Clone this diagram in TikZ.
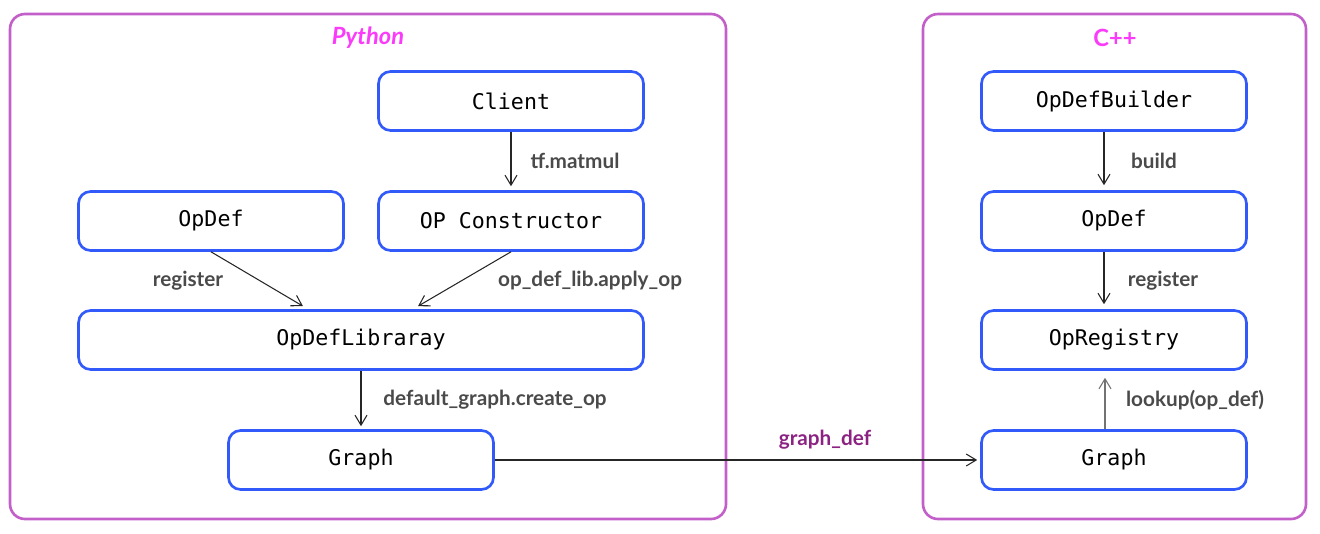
\documentclass[tikz,border=0pt]{standalone}
\usepackage{fontspec}
\setmonofont{DejaVu Sans Mono}
\newfontfamily\labelfont{Lato}
\usepackage{tikz}
\usetikzlibrary{positioning}
\usetikzlibrary{calc,arrows.meta}
\definecolor{boxblue}{RGB}{50,90,250}
\definecolor{framepurple}{RGB}{195,95,200}
\definecolor{titlemagenta}{RGB}{250,60,250}
\definecolor{lblgray}{RGB}{74,74,74}
\definecolor{defpurple}{RGB}{140,35,130}

\begin{document}
\begin{tikzpicture}[x=0.02cm, y=-0.02cm,
    box/.style={rectangle, draw=boxblue, line width=1.5pt, rounded corners=0.24cm,
        minimum width=5.3cm, minimum height=1.18cm,
        font=\ttfamily\fontsize{12.3}{14}\selectfont},
    lbl/.style={text=lblgray, font=\labelfont\bfseries\fontsize{11.8}{13}\selectfont},
    frame/.style={draw=framepurple, line width=1.5pt, rounded corners=0.3cm},
    title/.style={text=titlemagenta, font=\labelfont\bfseries\itshape\fontsize{13.5}{15}\selectfont},
    flow/.style={-{Straight Barb[length=2mm,width=2.4mm]}, line width=0.6pt, draw=black!85}]
    \useasboundingbox (0,0) rectangle (1320,534);
    \draw[frame] (10,14) rectangle (726,519);
    \draw[frame] (923,14) rectangle (1306,519);
    \path
        node (python) at (368,38) [title] {Python}
        node (client) at (511,101) [box] {Client}
        node (opdef) at (211,221) [box] {OpDef}
        node (cons) at (511,221) [box] {OP Constructor}
        node (lib) at (361,340) [box, minimum width=11.3cm] {OpDefLibraray}
        node (pgraph) at (361,460) [box] {Graph};
    \path
        node (cpp) at (1115,38) [title, font=\labelfont\bfseries\fontsize{13.5}{15}\selectfont] {C++}
        node (builder) at (1114,101) [box] {OpDefBuilder}
        node (copdef) at (1114,221) [box] {OpDef}
        node (registry) at (1114,340) [box] {OpRegistry}
        node (cgraph) at (1114,460) [box] {Graph};
    \draw[flow] (client.south) -- ($(cons.north)+(0,-4)$);
    \draw[flow] (opdef.south) -- ($(lib.north)+(-58,-3)$);
    \draw[flow] (cons.south) -- ($(lib.north)+(57,-3)$);
    \draw[flow] (lib.south) -- ($(pgraph.north)+(0,-3)$);
    \draw[flow] (pgraph.east) -- ($(cgraph.west)+(-3,0)$);
    \draw[flow] ($(builder.south)+(-10,0)$) -- ($(copdef.north)+(-10,-5)$);
    \draw[flow] ($(copdef.south)+(-10,0)$) -- ($(registry.north)+(-10,-5)$);
    \draw[flow, draw=black!55] ($(cgraph.north)+(-9,0)$) -- ($(registry.south)+(-9,7)$);
    \path
        node (l-matmul) at (575,161) [lbl] {tf.matmul}
        node (l-reg) at (188,281) [lbl] {register}
        node (l-apply) at (590,281) [lbl] {op\_def\_lib.apply\_op}
        node (l-create) at (495,400) [lbl] {default\_graph.create\_op}
        node (l-def) at (825,440) [lbl, text=defpurple] {graph\_def}
        node (l-build) at (1154,161) [lbl] {build}
        node (l-creg) at (1163,281) [lbl] {register}
        node (l-lookup) at (1195,400) [lbl] {lookup(op\_def)};
\end{tikzpicture}
\end{document}
